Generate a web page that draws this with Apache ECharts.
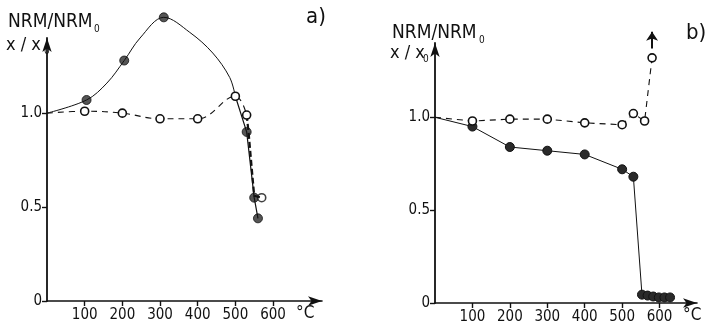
<!DOCTYPE html>
<html>
<head>
  <meta charset="utf-8">
  <title>NRM / susceptibility</title>
  <script src="https://cdn.jsdelivr.net/npm/echarts@6.0.0/dist/echarts.min.js"></script>
</head>
<body style="margin:0; background:#fff;">
  <div id="main" style="width:707px; height:328px;"></div>
  <script type="text/javascript">
    // tick labels
    const xTicks = [100, 200, 300, 400, 500, 600];
    const yTicks = [0, 0.5, 1.0];

    // panel a) - NRM/NRM0: measured dots and the hand-drawn curve through them
    const aNrmDots = [[105, 1.07], [205, 1.28], [310, 1.51], [530, 0.90], [550, 0.55], [560, 0.44]];
    const aNrmCurve = [[0, 1.0], [105, 1.07], [159, 1.16], [205, 1.28], [247, 1.40], [310, 1.51],
                       [379, 1.43], [440, 1.32], [485, 1.19], [500, 1.09]];
    const aNrmTail = [[500, 1.09], [530, 0.90], [550, 0.55], [560, 0.44]];
    // panel a) - x/x0 (open circles)
    const aSus = [[0, 1.0], [100, 1.01], [200, 1.0], [300, 0.97], [400, 0.97], [500, 1.09], [530, 0.99]];
    const aSusTail = [[530, 0.99], [535, 0.90], [550, 0.56], [570, 0.55]];

    // panel b)
    const bNrm = [[0, 1.0], [100, 0.95], [200, 0.84], [300, 0.82], [400, 0.80], [500, 0.72], [530, 0.68],
                  [553, 0.045], [568, 0.04], [583, 0.035], [598, 0.03], [613, 0.03], [628, 0.03]];
    const bSus = [[0, 1.0], [100, 0.98], [200, 0.99], [300, 0.99], [400, 0.97], [500, 0.96], [530, 1.02],
                  [560, 0.98], [580, 1.32]];
    const bArrow = [[580, 1.37], [580, 1.46]];

    const font = 'DejaVu Sans Condensed';
    var myChart = echarts.init(document.getElementById('main'));

    const xAxisOf = (idx, max) => ({
      gridIndex: idx, type: 'value', min: 0, max: max,
      splitLine: { show: false },
      axisLine: { onZero: false, symbol: ['none', 'arrow'], symbolSize: [7, 14], lineStyle: { color: '#111', width: 1.6 } },
      axisTick: { customValues: xTicks, length: 5, lineStyle: { color: '#111', width: 1.4 } },
      axisLabel: { customValues: xTicks, color: '#111', fontFamily: font, fontSize: 15, margin: 7 }
    });
    const yAxisOf = (idx) => ({
      gridIndex: idx, type: 'value', min: 0, max: 1.4,
      splitLine: { show: false },
      axisLine: { onZero: false, symbol: ['none', 'arrow'], symbolSize: [7, 14], lineStyle: { color: '#111', width: 1.8 } },
      axisTick: { customValues: yTicks, length: 5, lineStyle: { color: '#111', width: 1.4 } },
      axisLabel: { customValues: yTicks, color: '#111', fontFamily: font, fontSize: 15, margin: 5,
        formatter: v => v === 0 ? '0' : v.toFixed(1) }
    });

    const filled = { symbol: 'circle', symbolSize: 9, itemStyle: { color: '#2a2a2a', borderColor: '#111', borderWidth: 1 } };
    const open = { symbol: 'circle', symbolSize: 8, itemStyle: { color: '#fff', borderColor: '#111', borderWidth: 1.6 } };
    const noFirst = arr => arr.map((p, i) => i === 0 ? { value: p, symbol: 'none' } : p);

    const label = (x, y, text, size) => ({ type: 'text', x: x, y: y,
      style: { text: text, fill: '#111', font: size + 'px "' + font + '"' } });

    var option = {
      animation: false,
      grid: [
        { left: 47, right: 385, top: 38, bottom: 27 },
        { left: 435, right: 10, top: 43, bottom: 25 }
      ],
      xAxis: [xAxisOf(0, 730), xAxisOf(1, 700)],
      yAxis: [yAxisOf(0), yAxisOf(1)],
      series: [
        // panel a
        { type: 'line', xAxisIndex: 0, yAxisIndex: 0, data: aNrmCurve, smooth: 0.35, clip: false, showSymbol: false,
          lineStyle: { color: '#111', width: 1 } },
        { type: 'line', xAxisIndex: 0, yAxisIndex: 0, data: aNrmTail, clip: false, showSymbol: false,
          lineStyle: { color: '#111', width: 1.2 } },
        Object.assign({ type: 'line', xAxisIndex: 0, yAxisIndex: 0, smooth: 0.4, clip: false,
          lineStyle: { color: '#111', width: 1.1, type: [6, 5] } }, open, { data: noFirst(aSus) }),
        { type: 'line', xAxisIndex: 0, yAxisIndex: 0, data: aSusTail, clip: false, showSymbol: false,
          lineStyle: { color: '#111', width: 2.2, type: [6, 3] } },
        Object.assign({ type: 'scatter', xAxisIndex: 0, yAxisIndex: 0, clip: false, data: aNrmDots }, filled),
        Object.assign({ type: 'scatter', xAxisIndex: 0, yAxisIndex: 0, clip: false,
          data: [aSusTail[aSusTail.length - 1]] }, open),

        // panel b
        Object.assign({ type: 'line', xAxisIndex: 1, yAxisIndex: 1, clip: false,
          lineStyle: { color: '#111', width: 1 } }, filled, { data: noFirst(bNrm) }),
        Object.assign({ type: 'line', xAxisIndex: 1, yAxisIndex: 1, clip: false,
          lineStyle: { color: '#111', width: 1.1, type: [6, 5] } }, open, { data: noFirst(bSus) }),
        // off-scale arrow above the last open circle
        { type: 'lines', coordinateSystem: 'cartesian2d', xAxisIndex: 1, yAxisIndex: 1, clip: false,
          symbol: ['none', 'arrow'], symbolSize: 9, silent: true,
          lineStyle: { color: '#111', width: 2, opacity: 1 },
          data: [{ coords: bArrow }] }
      ],
      graphic: [
        label(8, 13, 'NRM/NRM', 19), label(94, 24, '0', 10),
        label(6, 36, 'x / x', 18), label(44, 46, '0', 10),
        label(306, 6, 'a)', 22),
        label(296, 305, '°C', 17),

        label(392, 24, 'NRM/NRM', 19), label(479, 35, '0', 10),
        label(390, 44, 'x / x', 18), label(423, 54, '0', 10),
        label(686, 22, 'b)', 22),
        label(683, 307, '°C', 17)
      ]
    };
    myChart.setOption(option);
  </script>
</body>
</html>
